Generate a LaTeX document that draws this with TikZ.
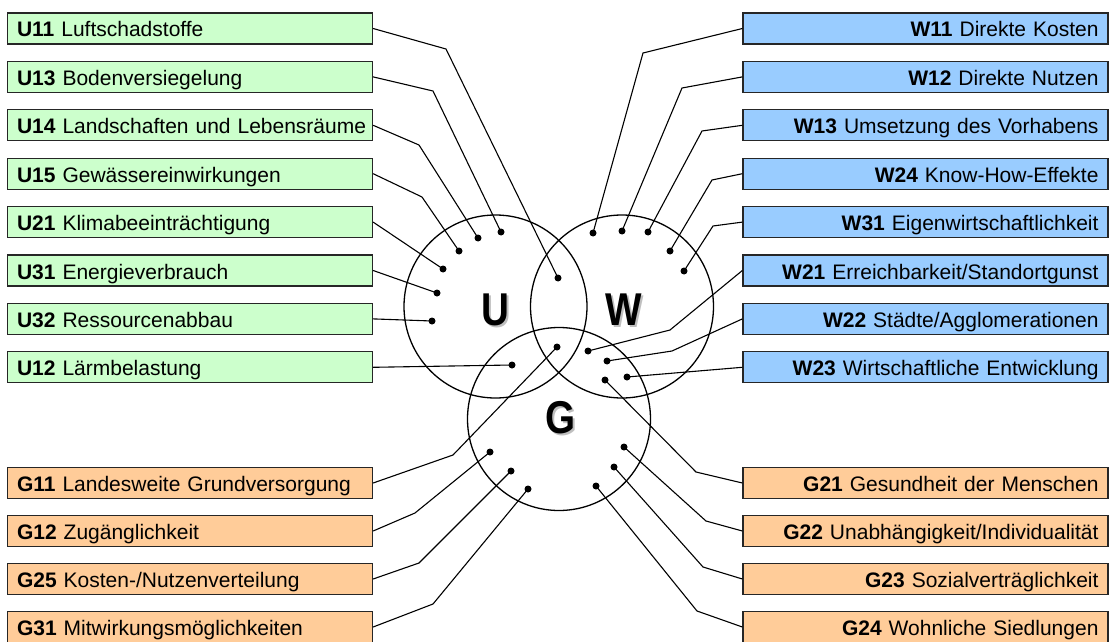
\documentclass[tikz,border=0pt]{standalone}
\usepackage{fontspec}
\setmainfont{Liberation Sans}
\newfontfamily\schmal[FakeStretch=0.84]{Liberation Sans}
\usetikzlibrary{positioning}

\definecolor{umweltgruen}{HTML}{CCFFCC}
\definecolor{wirtschaftblau}{HTML}{99CCFF}
\definecolor{gesellschaftorange}{HTML}{FFCC99}

\tikzset{
  kriterium/.style={draw=black!85, line width=1.3pt, minimum height=31pt,
    inner xsep=9.5pt, inner ysep=0pt, text width=346pt, text height=17pt,
    text depth=0pt, font=\fontsize{21}{21}\selectfont},
  links/.style={kriterium, align=left},
  rechts/.style={kriterium, align=right},
  punkt/.style={circle, fill=black, inner sep=0pt, minimum size=7pt},
  leitung/.style={line width=1.1pt},
  kreis/.style={circle, draw, line width=1.3pt, minimum size=183pt, inner sep=0pt},
  buchstabe/.style={font=\schmal\fontsize{46}{46}\selectfont\bfseries, inner sep=0pt},
  schatten/.style={buchstabe, text=black!25}
}

\begin{document}
\begin{tikzpicture}[x=1pt, y=-1pt]
\useasboundingbox (0,0) rectangle (1112,642);

% Kreise
\node[kreis] (kU) at (495.5,306.5) {};
\node[kreis] (kW) at (622,306.5) {};
\node[kreis] (kG) at (559,419) {};
\node[schatten] (sU) at (497.5,312) {U};
\node[schatten] (sW) at (625.5,312) {W};
\node[schatten] (sG) at (562.5,420) {G};
\node[buchstabe] (bU) at (495.5,310) {U};
\node[buchstabe] (bW) at (623.5,310) {W};
\node[buchstabe] (bG) at (560.5,418) {G};

% Umwelt
\node[links, fill=umweltgruen] (U11) at (190,28.5) {\textbf{U11} Luftschadstoffe};
\node[links, fill=umweltgruen] (U13) at (190,76.9) {\textbf{U13} Bodenversiegelung};
\node[links, fill=umweltgruen] (U14) at (190,125.3) {\mbox{\textbf{U14} Landschaften und Lebensräume}};
\node[links, fill=umweltgruen] (U15) at (190,173.7) {\textbf{U15} Gewässereinwirkungen};
\node[links, fill=umweltgruen] (U21) at (190,222.1) {\textbf{U21} Klimabeeinträchtigung};
\node[links, fill=umweltgruen] (U31) at (190,270.5) {\textbf{U31} Energieverbrauch};
\node[links, fill=umweltgruen] (U32) at (190,318.9) {\textbf{U32} Ressourcenabbau};
\node[links, fill=umweltgruen] (U12) at (190,367.3) {\textbf{U12} Lärmbelastung};

% Wirtschaft
\node[rechts, fill=wirtschaftblau] (W11) at (925.5,28.5) {\textbf{W11} Direkte Kosten};
\node[rechts, fill=wirtschaftblau] (W12) at (925.5,76.9) {\textbf{W12} Direkte Nutzen};
\node[rechts, fill=wirtschaftblau] (W13) at (925.5,125.3) {\textbf{W13} Umsetzung des Vorhabens};
\node[rechts, fill=wirtschaftblau] (W24) at (925.5,173.7) {\textbf{W24} Know-How-Effekte};
\node[rechts, fill=wirtschaftblau] (W31) at (925.5,222.1) {\textbf{W31} Eigenwirtschaftlichkeit};
\node[rechts, fill=wirtschaftblau] (W21) at (925.5,270.5) {\textbf{W21} Erreichbarkeit/Standortgunst};
\node[rechts, fill=wirtschaftblau] (W22) at (925.5,318.9) {\textbf{W22} Städte/Agglomerationen};
\node[rechts, fill=wirtschaftblau] (W23) at (925.5,367.3) {\textbf{W23} Wirtschaftliche Entwicklung};

% Gesellschaft
\node[links, fill=gesellschaftorange] (G11) at (190,483) {\textbf{G11} Landesweite Grundversorgung};
\node[links, fill=gesellschaftorange] (G12) at (190,531) {\textbf{G12} Zugänglichkeit};
\node[links, fill=gesellschaftorange] (G25) at (190,579) {\textbf{G25} Kosten-/Nutzenverteilung};
\node[links, fill=gesellschaftorange] (G31) at (190,627) {\textbf{G31} Mitwirkungsmöglichkeiten};
\node[rechts, fill=gesellschaftorange] (G21) at (925.5,483) {\textbf{G21} Gesundheit der Menschen};
\node[rechts, fill=gesellschaftorange] (G22) at (925.5,531) {\textbf{G22} Unabhängigkeit/Individualität};
\node[rechts, fill=gesellschaftorange] (G23) at (925.5,579) {\textbf{G23} Sozialverträglichkeit};
\node[rechts, fill=gesellschaftorange] (G24) at (925.5,627) {\textbf{G24} Wohnliche Siedlungen};

% Punkte
\node[punkt] (pU11) at (558,278) {};
\node[punkt] (pU13) at (501,232) {};
\node[punkt] (pU14) at (478,238) {};
\node[punkt] (pU15) at (459,251) {};
\node[punkt] (pU21) at (443,269) {};
\node[punkt] (pU31) at (437,293) {};
\node[punkt] (pU32) at (432,321) {};
\node[punkt] (pU12) at (512,365) {};
\node[punkt] (pW11) at (593,233) {};
\node[punkt] (pW12) at (622,231) {};
\node[punkt] (pW13) at (648,232) {};
\node[punkt] (pW24) at (670,251) {};
\node[punkt] (pW31) at (684,271) {};
\node[punkt] (pW21) at (588,351) {};
\node[punkt] (pW22) at (607,361) {};
\node[punkt] (pW23) at (627,377) {};
\node[punkt] (pG11) at (557,347) {};
\node[punkt] (pG12) at (490,452) {};
\node[punkt] (pG25) at (511,471) {};
\node[punkt] (pG31) at (528,489) {};
\node[punkt] (pG21) at (605,380) {};
\node[punkt] (pG22) at (624,447) {};
\node[punkt] (pG23) at (614,467) {};
\node[punkt] (pG24) at (596,486) {};

% Knickpunkte
\coordinate (kU11) at (446,49);
\coordinate (kU13) at (433,91);
\coordinate (kU14) at (419,145);
\coordinate (kU15) at (422,197);
\coordinate (kW11) at (643,53);
\coordinate (kW12) at (682,88);
\coordinate (kW13) at (702,131);
\coordinate (kW24) at (712,180);
\coordinate (kW31) at (713,226);
\coordinate (kW21) at (670,330);
\coordinate (kW22) at (672,351);
\coordinate (kG11) at (453,455);
\coordinate (kG12) at (415,513);
\coordinate (kG25) at (419,563);
\coordinate (kG31) at (433,604);
\coordinate (kG21) at (696,472);
\coordinate (kG22) at (706,521);
\coordinate (kG23) at (703,567);
\coordinate (kG24) at (697,611);

% Verbindungen
\draw[leitung] (U11.east) -- (kU11) -- (pU11.center);
\draw[leitung] (U13.east) -- (kU13) -- (pU13.center);
\draw[leitung] (U14.east) -- (kU14) -- (pU14.center);
\draw[leitung] (U15.east) -- (kU15) -- (pU15.center);
\draw[leitung] (U21.east) -- (pU21.center);
\draw[leitung] (U31.east) -- (pU31.center);
\draw[leitung] (U32.east) -- (pU32.center);
\draw[leitung] (U12.east) -- (pU12.center);
\draw[leitung] (W11.west) -- (kW11) -- (pW11.center);
\draw[leitung] (W12.west) -- (kW12) -- (pW12.center);
\draw[leitung] (W13.west) -- (kW13) -- (pW13.center);
\draw[leitung] (W24.west) -- (kW24) -- (pW24.center);
\draw[leitung] (W31.west) -- (kW31) -- (pW31.center);
\draw[leitung] (W21.west) -- (kW21) -- (pW21.center);
\draw[leitung] (W22.west) -- (kW22) -- (pW22.center);
\draw[leitung] (W23.west) -- (pW23.center);
\draw[leitung] (G11.east) -- (kG11) -- (pG11.center);
\draw[leitung] (G12.east) -- (kG12) -- (pG12.center);
\draw[leitung] (G25.east) -- (kG25) -- (pG25.center);
\draw[leitung] (G31.east) -- (kG31) -- (pG31.center);
\draw[leitung] (G21.west) -- (kG21) -- (pG21.center);
\draw[leitung] (G22.west) -- (kG22) -- (pG22.center);
\draw[leitung] (G23.west) -- (kG23) -- (pG23.center);
\draw[leitung] (G24.west) -- (kG24) -- (pG24.center);

\end{tikzpicture}
\end{document}
